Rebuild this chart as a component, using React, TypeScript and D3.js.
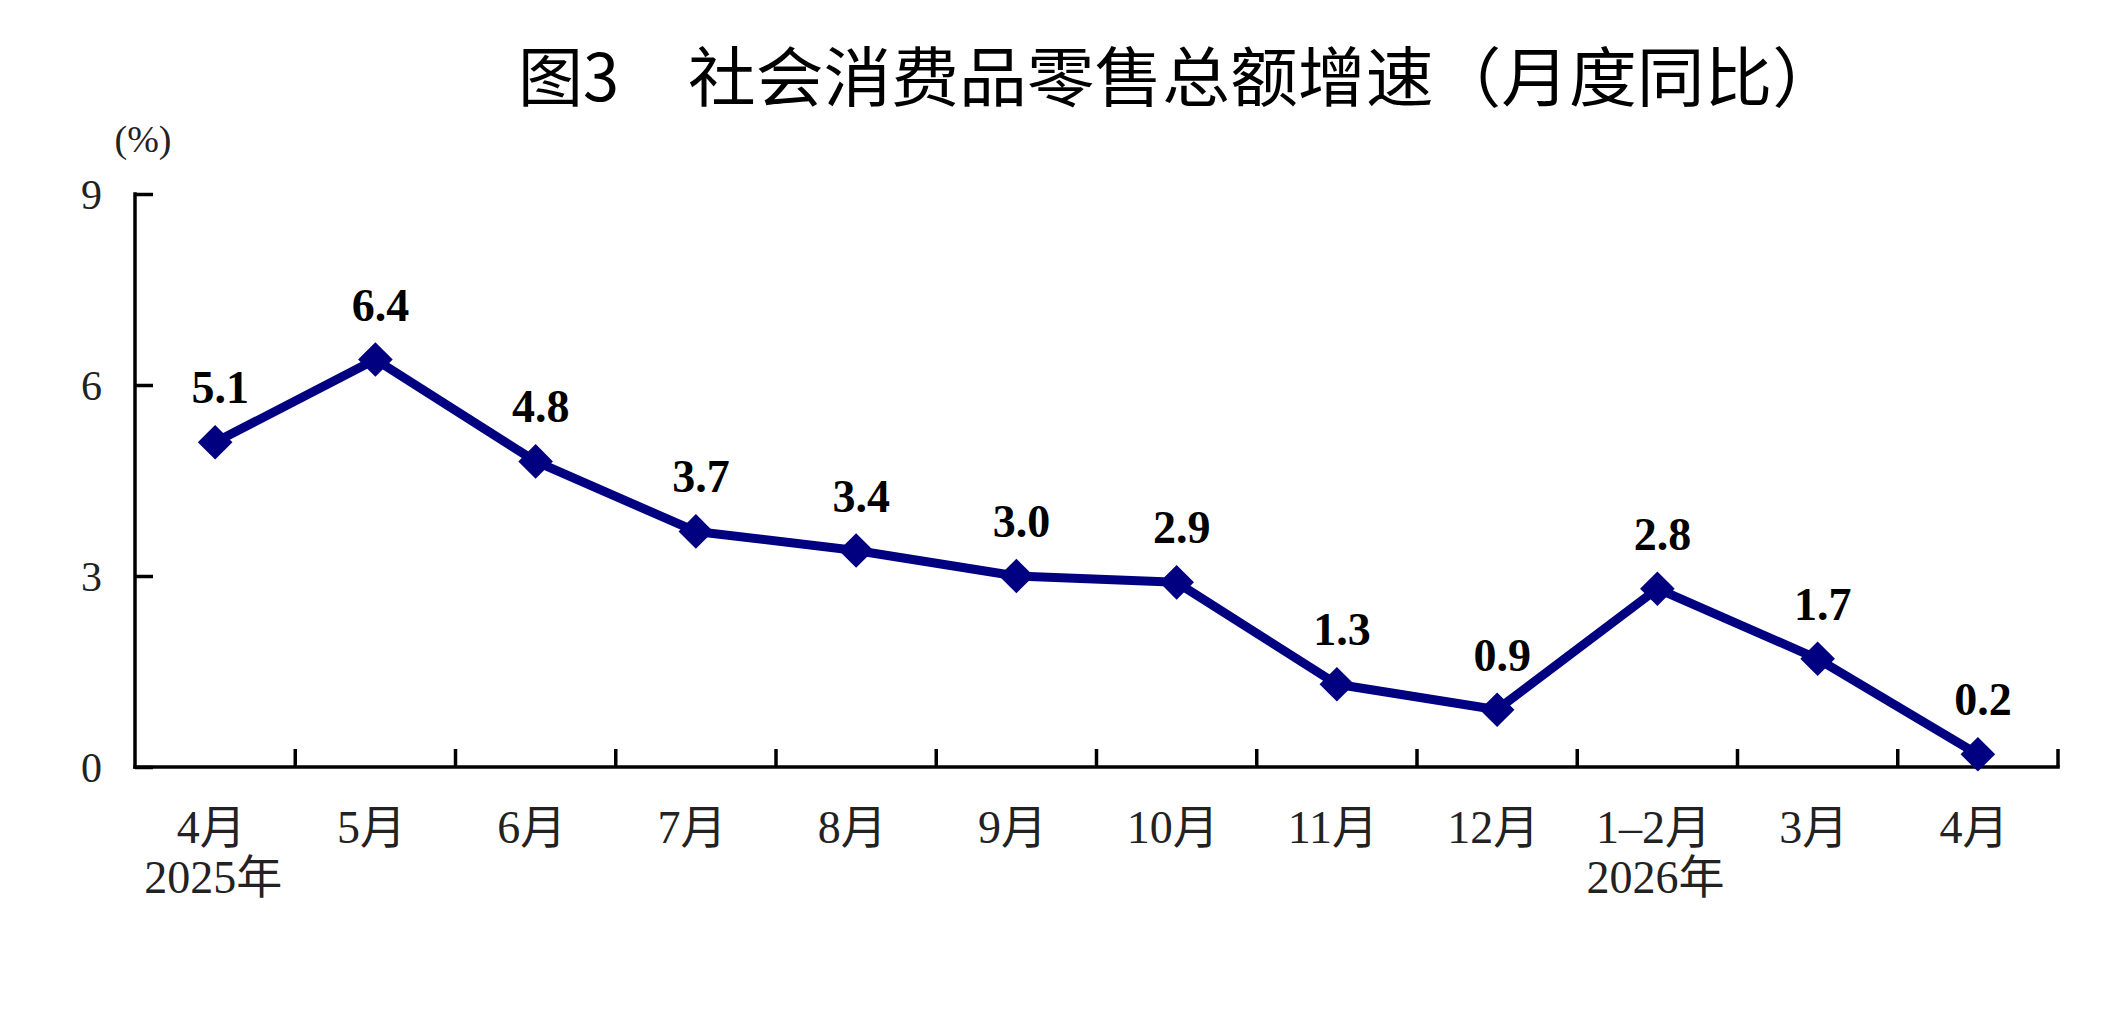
import React, { useEffect, useRef } from 'react';
import * as d3 from 'd3';

const months = ['4月', '5月', '6月', '7月', '8月', '9月', '10月', '11月', '12月', '1–2月', '3月', '4月'];
const years = ['2025年', '', '', '', '', '', '', '', '', '2026年', '', ''];
const growth = [5.1, 6.4, 4.8, 3.7, 3.4, 3.0, 2.9, 1.3, 0.9, 2.8, 1.7, 0.2];
const yTicks = [0, 3, 6, 9];

const serif = '"Liberation Serif", "Times New Roman", "Noto Sans CJK SC", serif';
const sans = '"Noto Sans CJK SC", sans-serif';

const drawChart = (container: SVGSVGElement) => {
  const margin = { top: 194, left: 135, right: 58, bottom: 257 };
  const W = 2116;
  const H = 1024;
  const width = W - margin.left - margin.right;
  const height = H - margin.top - margin.bottom;

  const svg = d3.select(container);
  svg.selectAll('*').remove();

  svg.append('rect').attr('width', W).attr('height', H).attr('fill', '#fff');

  // title
  svg
    .append('text')
    .attr('x', 518)
    .attr('y', 101)
    .attr('font-family', sans)
    .attr('font-size', 65)
    .attr('fill', '#000')
    .text('图3');
  svg
    .append('text')
    .attr('x', 688)
    .attr('y', 101)
    .attr('font-family', sans)
    .attr('font-size', 65)
    .attr('fill', '#000')
    .attr('textLength', 1152)
    .attr('lengthAdjust', 'spacingAndGlyphs')
    .text('社会消费品零售总额增速（月度同比）');

  const g = svg.append('g').attr('transform', `translate(${margin.left}, ${margin.top})`);

  const x = d3
    .scaleBand<number>()
    .domain(d3.range(growth.length))
    .range([0, width]);

  const y = d3.scaleLinear().domain([0, 9]).range([height, 0]);

  // unit label
  g.append('text')
    .attr('x', 8)
    .attr('y', -42)
    .attr('text-anchor', 'middle')
    .attr('font-family', serif)
    .attr('font-size', 38)
    .attr('fill', '#222')
    .text('(%)');

  // y axis
  const yAxisG = g.append('g');
  yAxisG.call(d3.axisRight(y).tickValues(yTicks).tickSize(18).tickFormat(() => ''));
  yAxisG.selectAll('.domain').remove();
  yAxisG.selectAll('.tick line').attr('stroke', '#000').attr('stroke-width', 3.5);
  yAxisG
    .append('line')
    .attr('x1', 0)
    .attr('x2', 0)
    .attr('y1', y(9) - 1.75)
    .attr('y2', height + 1.75)
    .attr('stroke', '#000')
    .attr('stroke-width', 3.5);

  g.selectAll('.ylab')
    .data(yTicks)
    .enter()
    .append('text')
    .attr('class', 'ylab')
    .attr('x', -33)
    .attr('y', (d) => y(d) + 15)
    .attr('text-anchor', 'end')
    .attr('font-family', serif)
    .attr('font-size', 42)
    .attr('fill', '#222')
    .text((d) => d);

  // x axis with ticks between the categories
  const bounds = d3.range(1, growth.length + 1).map((i) => i * x.bandwidth());
  const xAxisG = g.append('g').attr('transform', `translate(0, ${height})`);
  xAxisG
    .append('line')
    .attr('x1', -1.75)
    .attr('x2', width + 1.75)
    .attr('stroke', '#000')
    .attr('stroke-width', 3.5);
  xAxisG
    .selectAll('.xtick')
    .data(bounds)
    .enter()
    .append('line')
    .attr('class', 'xtick')
    .attr('x1', (d) => d)
    .attr('x2', (d) => d)
    .attr('y1', 0)
    .attr('y2', -18)
    .attr('stroke', '#000')
    .attr('stroke-width', 3.5);

  const cx = (i: number) => (x(i) || 0) + x.bandwidth() / 2;

  xAxisG
    .selectAll('.mlab')
    .data(months)
    .enter()
    .append('text')
    .attr('class', 'mlab')
    .attr('x', (d, i) => cx(i) - 4)
    .attr('y', 76)
    .attr('text-anchor', 'middle')
    .attr('font-family', serif)
    .attr('font-size', 46)
    .attr('fill', '#222')
    .text((d) => d);

  xAxisG
    .selectAll('.ylab2')
    .data(years)
    .enter()
    .append('text')
    .attr('class', 'ylab2')
    .attr('x', (d, i) => cx(i) - 2)
    .attr('y', 126)
    .attr('text-anchor', 'middle')
    .attr('font-family', serif)
    .attr('font-size', 46)
    .attr('fill', '#222')
    .text((d) => d);

  // line + markers
  const line = d3
    .line<number>()
    .x((d, i) => cx(i))
    .y((d) => y(d));

  g.append('path')
    .attr('d', line(growth) || '')
    .attr('fill', 'none')
    .attr('stroke', '#000080')
    .attr('stroke-width', 9)
    .attr('stroke-linejoin', 'round');

  const diamond = d3.symbol().type(d3.symbolSquare).size(600);
  g.selectAll('.marker')
    .data(growth)
    .enter()
    .append('path')
    .attr('class', 'marker')
    .attr('d', diamond() || '')
    .attr('transform', (d, i) => `translate(${cx(i)}, ${y(d)}) rotate(45)`)
    .attr('fill', '#000080');

  g.selectAll('.vlab')
    .data(growth)
    .enter()
    .append('text')
    .attr('class', 'vlab')
    .attr('x', (d, i) => cx(i) + 5)
    .attr('y', (d) => y(d) - 39)
    .attr('text-anchor', 'middle')
    .attr('font-family', serif)
    .attr('font-weight', 'bold')
    .attr('font-size', 46)
    .attr('fill', '#000')
    .text((d) => d.toFixed(1));
};

const App: React.FC = () => {
  const svgRef = useRef<SVGSVGElement>(null);

  useEffect(() => {
    if (svgRef && svgRef.current) {
      drawChart(svgRef.current);
    }
  }, [svgRef]);

  return (
    <svg
      ref={svgRef}
      width={2116}
      height={1024}
      style={{ position: 'absolute', left: 0, top: 0 }}
    ></svg>
  );
};

export default App;
